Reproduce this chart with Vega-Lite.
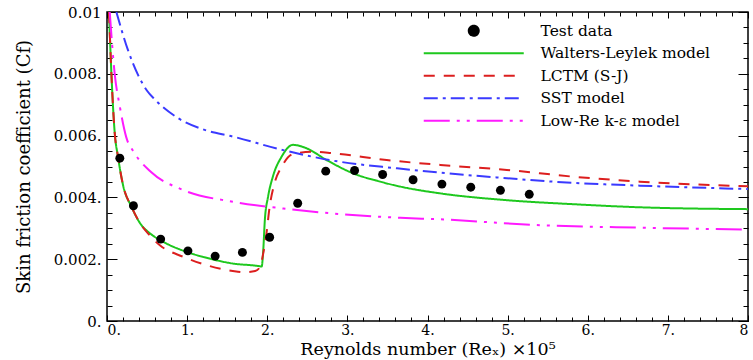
{
  "$schema": "https://vega.github.io/schema/vega-lite/v6.json",
  "width": 641,
  "height": 309,
  "autosize": "none",
  "padding": {"left": 107, "top": 12, "right": 5, "bottom": 39},
  "config": {
    "view": {"stroke": "#000000", "strokeWidth": 1.5},
    "font": "DejaVu Serif",
    "axis": {
      "grid": false,
      "domain": false,
      "tickColor": "#000000",
      "tickWidth": 1,
      "labelFont": "DejaVu Serif",
      "labelFontSize": 15,
      "labelColor": "#000000",
      "titleFont": "DejaVu Serif",
      "titleFontSize": 18,
      "titleFontWeight": "normal",
      "titleColor": "#000000"
    },
    "legend": {
      "orient": "none",
      "legendX": 359,
      "legendY": 11,
      "padding": 0,
      "labelFont": "DejaVu Serif",
      "labelFontSize": 15.5,
      "labelColor": "#000000",
      "labelLimit": 300,
      "labelOffset": 59,
      "symbolSize": 100,
      "symbolStrokeWidth": 2,
      "symbolOffset": 0,
      "rowPadding": 5.5
    }
  },
  "datasets": {
    "pts": [
      {"series": "Test data", "x": 0.16, "cf": 0.00527},
      {"series": "Test data", "x": 0.33, "cf": 0.00373},
      {"series": "Test data", "x": 0.67, "cf": 0.00265},
      {"series": "Test data", "x": 1.01, "cf": 0.00227},
      {"series": "Test data", "x": 1.35, "cf": 0.00210},
      {"series": "Test data", "x": 1.69, "cf": 0.00222},
      {"series": "Test data", "x": 2.03, "cf": 0.00271},
      {"series": "Test data", "x": 2.38, "cf": 0.00381},
      {"series": "Test data", "x": 2.73, "cf": 0.00485},
      {"series": "Test data", "x": 3.09, "cf": 0.00487},
      {"series": "Test data", "x": 3.44, "cf": 0.00474},
      {"series": "Test data", "x": 3.82, "cf": 0.00457},
      {"series": "Test data", "x": 4.18, "cf": 0.00443},
      {"series": "Test data", "x": 4.54, "cf": 0.00433},
      {"series": "Test data", "x": 4.91, "cf": 0.00423},
      {"series": "Test data", "x": 5.27, "cf": 0.00410}
    ],
    "curves": [
      {"series": "Walters-Leylek model", "x": 0.025, "cf": 0.0100},
      {"series": "Walters-Leylek model", "x": 0.055, "cf": 0.0080},
      {"series": "Walters-Leylek model", "x": 0.096, "cf": 0.0061},
      {"series": "Walters-Leylek model", "x": 0.137, "cf": 0.00532},
      {"series": "Walters-Leylek model", "x": 0.2, "cf": 0.0044},
      {"series": "Walters-Leylek model", "x": 0.305, "cf": 0.0037},
      {"series": "Walters-Leylek model", "x": 0.43, "cf": 0.0031},
      {"series": "Walters-Leylek model", "x": 0.53, "cf": 0.00285},
      {"series": "Walters-Leylek model", "x": 0.74, "cf": 0.00251},
      {"series": "Walters-Leylek model", "x": 0.99, "cf": 0.00224},
      {"series": "Walters-Leylek model", "x": 1.28, "cf": 0.00202},
      {"series": "Walters-Leylek model", "x": 1.57, "cf": 0.00186},
      {"series": "Walters-Leylek model", "x": 1.91, "cf": 0.00177},
      {"series": "Walters-Leylek model", "x": 1.93, "cf": 0.00176},
      {"series": "Walters-Leylek model", "x": 1.95, "cf": 0.00229},
      {"series": "Walters-Leylek model", "x": 1.97, "cf": 0.00327},
      {"series": "Walters-Leylek model", "x": 2.01, "cf": 0.00402},
      {"series": "Walters-Leylek model", "x": 2.07, "cf": 0.00467},
      {"series": "Walters-Leylek model", "x": 2.18, "cf": 0.00532},
      {"series": "Walters-Leylek model", "x": 2.32, "cf": 0.00570},
      {"series": "Walters-Leylek model", "x": 2.49, "cf": 0.00559},
      {"series": "Walters-Leylek model", "x": 2.74, "cf": 0.00521},
      {"series": "Walters-Leylek model", "x": 3.07, "cf": 0.00478},
      {"series": "Walters-Leylek model", "x": 3.41, "cf": 0.00451},
      {"series": "Walters-Leylek model", "x": 3.66, "cf": 0.00435},
      {"series": "Walters-Leylek model", "x": 4.16, "cf": 0.00413},
      {"series": "Walters-Leylek model", "x": 4.99, "cf": 0.00391},
      {"series": "Walters-Leylek model", "x": 5.82, "cf": 0.00378},
      {"series": "Walters-Leylek model", "x": 6.65, "cf": 0.00368},
      {"series": "Walters-Leylek model", "x": 8.0, "cf": 0.00362},

      {"series": "LCTM (S-J)", "x": 0.025, "cf": 0.0100},
      {"series": "LCTM (S-J)", "x": 0.055, "cf": 0.0080},
      {"series": "LCTM (S-J)", "x": 0.096, "cf": 0.0061},
      {"series": "LCTM (S-J)", "x": 0.137, "cf": 0.00532},
      {"series": "LCTM (S-J)", "x": 0.2, "cf": 0.0044},
      {"series": "LCTM (S-J)", "x": 0.305, "cf": 0.0037},
      {"series": "LCTM (S-J)", "x": 0.43, "cf": 0.0031},
      {"series": "LCTM (S-J)", "x": 0.53, "cf": 0.00278},
      {"series": "LCTM (S-J)", "x": 0.66, "cf": 0.00245},
      {"series": "LCTM (S-J)", "x": 0.95, "cf": 0.00208},
      {"series": "LCTM (S-J)", "x": 1.24, "cf": 0.00181},
      {"series": "LCTM (S-J)", "x": 1.57, "cf": 0.00162},
      {"series": "LCTM (S-J)", "x": 1.72, "cf": 0.00158},
      {"series": "LCTM (S-J)", "x": 1.85, "cf": 0.00162},
      {"series": "LCTM (S-J)", "x": 1.91, "cf": 0.00175},
      {"series": "LCTM (S-J)", "x": 1.95, "cf": 0.00219},
      {"series": "LCTM (S-J)", "x": 1.99, "cf": 0.00283},
      {"series": "LCTM (S-J)", "x": 2.03, "cf": 0.00370},
      {"series": "LCTM (S-J)", "x": 2.09, "cf": 0.00445},
      {"series": "LCTM (S-J)", "x": 2.18, "cf": 0.00499},
      {"series": "LCTM (S-J)", "x": 2.32, "cf": 0.00540},
      {"series": "LCTM (S-J)", "x": 2.57, "cf": 0.00548},
      {"series": "LCTM (S-J)", "x": 2.82, "cf": 0.00543},
      {"series": "LCTM (S-J)", "x": 3.49, "cf": 0.00521},
      {"series": "LCTM (S-J)", "x": 4.16, "cf": 0.00505},
      {"series": "LCTM (S-J)", "x": 4.99, "cf": 0.00489},
      {"series": "LCTM (S-J)", "x": 5.82, "cf": 0.00467},
      {"series": "LCTM (S-J)", "x": 6.65, "cf": 0.00451},
      {"series": "LCTM (S-J)", "x": 8.0, "cf": 0.00436},

      {"series": "SST model", "x": 0.117, "cf": 0.0100},
      {"series": "SST model", "x": 0.26, "cf": 0.00878},
      {"series": "SST model", "x": 0.39, "cf": 0.00795},
      {"series": "SST model", "x": 0.5, "cf": 0.00745},
      {"series": "SST model", "x": 0.6, "cf": 0.00716},
      {"series": "SST model", "x": 0.89, "cf": 0.00656},
      {"series": "SST model", "x": 1.2, "cf": 0.0062},
      {"series": "SST model", "x": 1.57, "cf": 0.00597},
      {"series": "SST model", "x": 2.2, "cf": 0.00553},
      {"series": "SST model", "x": 2.82, "cf": 0.00519},
      {"series": "SST model", "x": 3.62, "cf": 0.00494},
      {"series": "SST model", "x": 4.16, "cf": 0.0048},
      {"series": "SST model", "x": 4.99, "cf": 0.00462},
      {"series": "SST model", "x": 5.82, "cf": 0.00447},
      {"series": "SST model", "x": 6.65, "cf": 0.00438},
      {"series": "SST model", "x": 8.0, "cf": 0.00427},

      {"series": "Low-Re k-ε model", "x": 0.034, "cf": 0.0100},
      {"series": "Low-Re k-ε model", "x": 0.096, "cf": 0.0080},
      {"series": "Low-Re k-ε model", "x": 0.16, "cf": 0.00694},
      {"series": "Low-Re k-ε model", "x": 0.24, "cf": 0.00595},
      {"series": "Low-Re k-ε model", "x": 0.34, "cf": 0.00545},
      {"series": "Low-Re k-ε model", "x": 0.55, "cf": 0.00482},
      {"series": "Low-Re k-ε model", "x": 0.95, "cf": 0.00424},
      {"series": "Low-Re k-ε model", "x": 1.57, "cf": 0.00386},
      {"series": "Low-Re k-ε model", "x": 2.2, "cf": 0.00364},
      {"series": "Low-Re k-ε model", "x": 2.82, "cf": 0.00348},
      {"series": "Low-Re k-ε model", "x": 3.66, "cf": 0.00334},
      {"series": "Low-Re k-ε model", "x": 4.16, "cf": 0.00329},
      {"series": "Low-Re k-ε model", "x": 5.4, "cf": 0.0031},
      {"series": "Low-Re k-ε model", "x": 6.65, "cf": 0.00302},
      {"series": "Low-Re k-ε model", "x": 8.0, "cf": 0.00296}
    ]
  },
  "layer": [
    {
      "data": {"name": "curves"},
      "mark": {"type": "line", "strokeWidth": 2, "interpolate": "monotone", "clip": true},
      "encoding": {
        "x": {
          "field": "x", "type": "quantitative",
          "scale": {"domain": [0, 8], "nice": false, "zero": false},
          "axis": {"orient": "bottom", "values": [0,1,2,3,4,5,6,7,8], "ticks": false, "labelPadding": 2, "labelFontSize": 14, "labelExpr": "datum.value == 8 ? '8' : format(datum.value, 'd') + '.'", "title": "Reynolds number (Reₓ) ×10⁵", "titleFontSize": 17.5, "titlePadding": 3}
        },
        "y": {
          "field": "cf", "type": "quantitative",
          "scale": {"domain": [0, 0.01], "nice": false, "zero": false},
          "axis": {"orient": "left", "values": [0,0.002,0.004,0.006,0.008,0.01], "ticks": false, "labelPadding": 6, "labelExpr": "datum.value == 0.01 ? '0.01' : (datum.value == 0 ? '0.' : format(datum.value, '.3f') + '.')", "title": "Skin friction coefficient (Cf)", "titlePadding": 20}
        },
        "color": {
          "field": "series", "type": "nominal",
          "scale": {"domain": ["Test data", "Walters-Leylek model", "LCTM (S-J)", "SST model", "Low-Re k-ε model"], "range": ["#000000", "#1ec81e", "#dc1e1e", "#3a3aff", "#ff1aff"]},
          "legend": {"title": null}
        },
        "strokeDash": {
          "field": "series", "type": "nominal",
          "scale": {"domain": ["Test data", "Walters-Leylek model", "LCTM (S-J)", "SST model", "Low-Re k-ε model"], "range": [[1, 0], [1, 0], [11, 9], [14, 5, 3, 5], [26, 7, 3, 7, 3, 7]]},
          "legend": {"title": null}
        }
      }
    },
    {
      "data": {"name": "pts"},
      "mark": {"type": "point", "filled": true, "opacity": 1, "size": 80},
      "encoding": {
        "x": {
          "field": "x", "type": "quantitative",
          "axis": {"orient": "bottom", "values": [0,1,2,3,4,5,6,7,8], "offset": -6, "tickSize": 6, "labels": false, "title": null}
        },
        "y": {
          "field": "cf", "type": "quantitative",
          "axis": {"orient": "left", "values": [0,0.002,0.004,0.006,0.008,0.01], "offset": -10, "tickSize": 10, "labels": false, "title": null}
        },
        "color": {"field": "series", "type": "nominal", "legend": {"title": null}},
        "shape": {
          "field": "series", "type": "nominal",
          "scale": {"domain": ["Test data", "Walters-Leylek model", "LCTM (S-J)", "SST model", "Low-Re k-ε model"], "range": ["circle", "M-10,0H10", "M-10,0H10", "M-10,0H10", "M-10,0H10"]},
          "legend": {"title": null}
        }
      }
    },
    {
      "data": {"name": "pts"},
      "mark": {"type": "point", "opacity": 0},
      "encoding": {
        "x": {"field": "x", "type": "quantitative", "axis": {"orient": "bottom", "values": [0,0.2,0.4,0.6,0.8,1,1.2,1.4,1.6,1.8,2,2.2,2.4,2.6,2.8,3,3.2,3.4,3.6,3.8,4,4.2,4.4,4.6,4.8,5,5.2,5.4,5.6,5.8,6,6.2,6.4,6.6,6.8,7,7.2,7.4,7.6,7.8,8], "offset": -4, "tickSize": 4, "labels": false, "title": null}},
        "y": {"field": "cf", "type": "quantitative", "axis": {"orient": "left", "values": [0,0.0005,0.001,0.0015,0.002,0.0025,0.003,0.0035,0.004,0.0045,0.005,0.0055,0.006,0.0065,0.007,0.0075,0.008,0.0085,0.009,0.0095,0.01], "offset": -5, "tickSize": 5, "labels": false, "title": null}}
      }
    },
    {
      "data": {"name": "pts"},
      "mark": {"type": "point", "opacity": 0},
      "encoding": {
        "x": {"field": "x", "type": "quantitative", "axis": {"orient": "top", "values": [0,1,2,3,4,5,6,7,8], "offset": -6, "tickSize": 6, "labels": false, "title": null}},
        "y": {"field": "cf", "type": "quantitative", "axis": {"orient": "right", "values": [0,0.002,0.004,0.006,0.008,0.01], "offset": -10, "tickSize": 10, "labels": false, "title": null}}
      }
    },
    {
      "data": {"name": "pts"},
      "mark": {"type": "point", "opacity": 0},
      "encoding": {
        "x": {"field": "x", "type": "quantitative", "axis": {"orient": "top", "values": [0,0.2,0.4,0.6,0.8,1,1.2,1.4,1.6,1.8,2,2.2,2.4,2.6,2.8,3,3.2,3.4,3.6,3.8,4,4.2,4.4,4.6,4.8,5,5.2,5.4,5.6,5.8,6,6.2,6.4,6.6,6.8,7,7.2,7.4,7.6,7.8,8], "offset": -4, "tickSize": 4, "labels": false, "title": null}},
        "y": {"field": "cf", "type": "quantitative", "axis": {"orient": "right", "values": [0,0.0005,0.001,0.0015,0.002,0.0025,0.003,0.0035,0.004,0.0045,0.005,0.0055,0.006,0.0065,0.007,0.0075,0.008,0.0085,0.009,0.0095,0.01], "offset": -5, "tickSize": 5, "labels": false, "title": null}}
      }
    }
  ],
  "resolve": {"axis": {"x": "independent", "y": "independent"}}
}
